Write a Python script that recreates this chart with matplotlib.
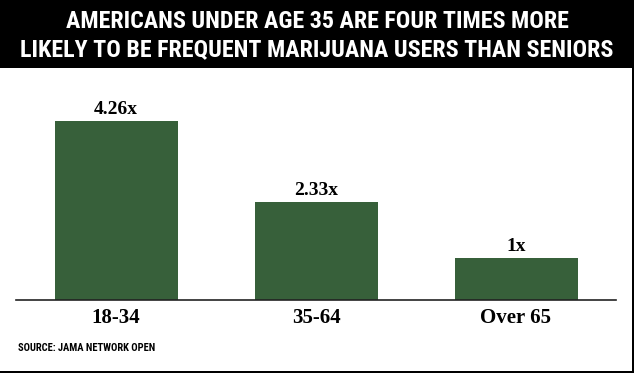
import matplotlib
matplotlib.use("Agg")
import matplotlib.pyplot as plt
from matplotlib.patches import Rectangle
from matplotlib import font_manager

# Dados do gráfico
age_groups = ["18-34", "35-64", "Over 65"]
ratios = [4.26, 2.33, 1.0]
ratio_labels = ["4.26x", "2.33x", "1x"]

title_lines = [
    "AMERICANS UNDER AGE 35 ARE FOUR TIMES MORE",
    "LIKELY TO BE FREQUENT MARIJUANA USERS THAN SENIORS",
]
source_text = "SOURCE: JAMA NETWORK OPEN"

W, H = 634, 373
BAR_COLOR = "#37603a"


def pick(names):
    have = {f.name for f in font_manager.fontManager.ttflist}
    for n in names:
        if n in have:
            return n
    return "DejaVu Sans"


title_font = pick(["Liberation Sans Narrow", "DejaVu Sans Condensed", "Roboto Condensed", "Liberation Sans"])
label_font = pick(["DejaVu Serif Condensed", "Liberation Serif", "DejaVu Serif"])

fig = plt.figure(figsize=(W / 100, H / 100), dpi=100)
fig.patch.set_facecolor("white")

# Faixa preta do título
fig.add_artist(Rectangle((0, 1 - 68 / H), 1, 68 / H, transform=fig.transFigure,
                         facecolor="black", edgecolor="none"))
fig.text(0.5, 1 - 22 / H, title_lines[0], color="white", ha="center", va="center",
         fontsize=17.3, fontweight="bold", family=title_font)
fig.text(0.5, 1 - 50 / H, title_lines[1], color="white", ha="center", va="center",
         fontsize=17.3, fontweight="bold", family=title_font)

# Borda à direita e embaixo
fig.add_artist(Rectangle((632 / W, 0), 2 / W, 1, transform=fig.transFigure,
                         facecolor="black", edgecolor="none"))
fig.add_artist(Rectangle((0, 0), 1, 2 / H, transform=fig.transFigure,
                         facecolor="black", edgecolor="none"))

ax = fig.add_axes([16 / W, (H - 300) / H, 600 / W, 200 / H])
x = range(len(age_groups))
bars = ax.bar(x, ratios, width=0.615, color=BAR_COLOR)
ax.set_xlim(-0.5, 2.5)
ax.set_ylim(0, 200 / 42.0)

for b, lab in zip(bars, ratio_labels):
    ax.text(b.get_x() + b.get_width() / 2, b.get_height() + 0.07, lab,
            ha="center", va="bottom", fontsize=14, fontweight="bold", family=label_font)

ax.set_xticks(list(x))
ax.set_xticklabels(age_groups, fontsize=15, fontweight="bold", family=label_font)
ax.tick_params(axis="x", length=0, pad=6)
ax.set_yticks([])
for s in ["top", "right", "left"]:
    ax.spines[s].set_visible(False)
ax.spines["bottom"].set_linewidth(1.2)
ax.spines["bottom"].set_color("#222222")

fig.text(18 / W, 1 - 348 / H, source_text, ha="left", va="center",
         fontsize=7.6, fontweight="bold", family=title_font)

fig.savefig("out.png", dpi=100)
